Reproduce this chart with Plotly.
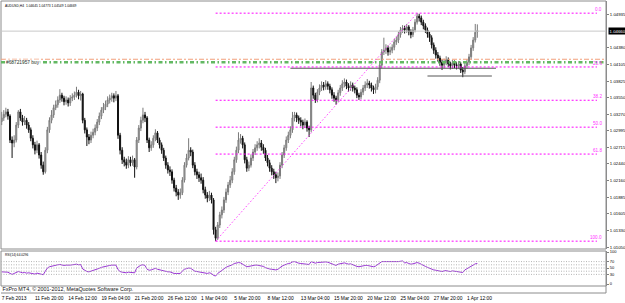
import plotly.graph_objects as go

# ---------------- data (AUDUSD, H4) ----------------
opens = [
    1.0315, 1.0321, 1.0327, 1.0331, 1.0324, 1.0284, 1.0279, 1.0284, 1.0309, 1.0331,
    1.0321, 1.0314, 1.0317, 1.0309, 1.0301, 1.0287, 1.0276, 1.0267, 1.0276, 1.0259,
    1.0242, 1.0231, 1.0267, 1.0301, 1.0317, 1.0326, 1.0338, 1.0343, 1.0351, 1.0359,
    1.0354, 1.0348, 1.0351, 1.0346, 1.0354, 1.0356, 1.0359, 1.0364, 1.0358, 1.0361,
    1.0317, 1.0301, 1.0289, 1.0284, 1.0292, 1.0297, 1.0304, 1.0314, 1.0324, 1.0334,
    1.0339, 1.0344, 1.0351, 1.0354, 1.0358, 1.0354, 1.0358, 1.0292, 1.0267, 1.0251,
    1.0247, 1.0242, 1.0251, 1.0246, 1.0251, 1.0239, 1.0284, 1.0304, 1.0317, 1.0326,
    1.0321, 1.0284, 1.0271, 1.0276, 1.0287, 1.0296, 1.0284, 1.0276, 1.0267, 1.0254,
    1.0242, 1.0234, 1.0231, 1.0217, 1.0204, 1.0197, 1.0192, 1.0196, 1.0217, 1.0242,
    1.0254, 1.0267, 1.0264, 1.0242, 1.0231, 1.0226, 1.0221, 1.0217, 1.0201, 1.0192,
    1.0187, 1.0192, 1.0184, 1.0134, 1.0120, 1.0142, 1.0159, 1.0167, 1.0184, 1.0197,
    1.0209, 1.0217, 1.0231, 1.0251, 1.0267, 1.0284, 1.0287, 1.0276, 1.0251, 1.0237,
    1.0242, 1.0254, 1.0264, 1.0271, 1.0276, 1.0279, 1.0272, 1.0267, 1.0254, 1.0246,
    1.0237, 1.0231, 1.0226, 1.0221, 1.0224, 1.0242, 1.0259, 1.0271, 1.0284, 1.0292,
    1.0301, 1.0321, 1.0326, 1.0321, 1.0317, 1.0314, 1.0309, 1.0314, 1.0304, 1.0301,
    1.0371, 1.0359, 1.0351, 1.0364, 1.0371, 1.0376, 1.0373, 1.0378, 1.0374, 1.0368,
    1.0359, 1.0354, 1.0351, 1.0363, 1.0371, 1.0378, 1.0381, 1.0374, 1.0371, 1.0376,
    1.0371, 1.0368, 1.0359, 1.0356, 1.0364, 1.0371, 1.0376, 1.0379, 1.0376, 1.0371,
    1.0368, 1.0373, 1.0384, 1.0409, 1.0431, 1.0434, 1.0438, 1.0431, 1.0434, 1.0439,
    1.0448, 1.0451, 1.0460, 1.0468, 1.0471, 1.0468, 1.0473, 1.0465, 1.0460, 1.0468,
    1.0481, 1.0491, 1.0488, 1.0481, 1.0475, 1.0468, 1.0461, 1.0455, 1.0443, 1.0434,
    1.0426, 1.0421, 1.0414, 1.0409, 1.0414, 1.0418, 1.0411, 1.0408, 1.0413, 1.0409,
    1.0408, 1.0411, 1.0401, 1.0398, 1.0408, 1.0414, 1.0423, 1.0438, 1.0451, 1.04645,
]
highs = [
    1.0331, 1.0334, 1.0338, 1.0336, 1.0327, 1.0290, 1.0292, 1.0314, 1.0334, 1.0336,
    1.0326, 1.0324, 1.0321, 1.0314, 1.0305, 1.0292, 1.0281, 1.0283, 1.0279, 1.0264,
    1.0248, 1.0272, 1.0306, 1.0322, 1.0334, 1.0343, 1.0350, 1.0357, 1.0369, 1.0363,
    1.0358, 1.0357, 1.0355, 1.0359, 1.0362, 1.0365, 1.0373, 1.0368, 1.0366, 1.0363,
    1.0321, 1.0305, 1.0294, 1.0298, 1.0303, 1.0310, 1.0319, 1.0330, 1.0339, 1.0346,
    1.0350, 1.0357, 1.0360, 1.0363, 1.0362, 1.0366, 1.0361, 1.0296, 1.0272, 1.0256,
    1.0253, 1.0257, 1.0256, 1.0258, 1.0254, 1.0289, 1.0309, 1.0323, 1.0338, 1.0331,
    1.0324, 1.0288, 1.0282, 1.0292, 1.0302, 1.0299, 1.0288, 1.0280, 1.0271, 1.0258,
    1.0247, 1.0240, 1.0235, 1.0221, 1.0209, 1.0202, 1.0203, 1.0222, 1.0247, 1.0261,
    1.0287, 1.0272, 1.0268, 1.0247, 1.0236, 1.0231, 1.0228, 1.0222, 1.0206, 1.0197,
    1.0199, 1.0196, 1.0187, 1.0139, 1.0147, 1.0164, 1.0173, 1.0189, 1.0203, 1.0214,
    1.0224, 1.0237, 1.0256, 1.0273, 1.0297, 1.0294, 1.0291, 1.0280, 1.0256, 1.0248,
    1.0260, 1.0269, 1.0277, 1.0282, 1.0287, 1.0284, 1.0277, 1.0271, 1.0259, 1.0251,
    1.0242, 1.0236, 1.0231, 1.0230, 1.0247, 1.0264, 1.0276, 1.0290, 1.0298, 1.0307,
    1.0331, 1.0331, 1.0330, 1.0325, 1.0322, 1.0318, 1.0320, 1.0317, 1.0308, 1.0381,
    1.0375, 1.0363, 1.0369, 1.0377, 1.0382, 1.0381, 1.0384, 1.0382, 1.0378, 1.0372,
    1.0364, 1.0358, 1.0368, 1.0376, 1.0384, 1.0387, 1.0385, 1.0379, 1.0382, 1.0380,
    1.0375, 1.0372, 1.0363, 1.0369, 1.0376, 1.0382, 1.0386, 1.0383, 1.0380, 1.0375,
    1.0378, 1.0389, 1.0414, 1.0436, 1.0455, 1.0444, 1.0442, 1.0440, 1.0444, 1.0453,
    1.0457, 1.0465, 1.0473, 1.0476, 1.0475, 1.0478, 1.0476, 1.0469, 1.0473, 1.0486,
    1.0496, 1.0495, 1.0492, 1.0485, 1.0479, 1.0472, 1.0465, 1.0459, 1.0447, 1.0439,
    1.0431, 1.0425, 1.0419, 1.0420, 1.0424, 1.0422, 1.0415, 1.0418, 1.0417, 1.0414,
    1.0416, 1.0414, 1.0406, 1.0413, 1.0419, 1.0428, 1.0443, 1.0456, 1.0478, 1.04773,
]
lows = [
    1.0309, 1.0316, 1.0322, 1.0318, 1.0279, 1.0254, 1.0272, 1.0280, 1.0304, 1.0316,
    1.0308, 1.0309, 1.0303, 1.0296, 1.0282, 1.0270, 1.0260, 1.0262, 1.0253, 1.0236,
    1.0226, 1.0228, 1.0262, 1.0296, 1.0312, 1.0321, 1.0334, 1.0338, 1.0346, 1.0348,
    1.0342, 1.0343, 1.0340, 1.0341, 1.0349, 1.0351, 1.0355, 1.0352, 1.0350, 1.0312,
    1.0295, 1.0274, 1.0277, 1.0279, 1.0287, 1.0292, 1.0299, 1.0309, 1.0319, 1.0329,
    1.0334, 1.0339, 1.0345, 1.0348, 1.0347, 1.0349, 1.0286, 1.0260, 1.0244, 1.0240,
    1.0236, 1.0237, 1.0240, 1.0241, 1.0221, 1.0235, 1.0279, 1.0299, 1.0312, 1.0314,
    1.0279, 1.0264, 1.0266, 1.0271, 1.0282, 1.0279, 1.0270, 1.0261, 1.0249, 1.0236,
    1.0228, 1.0224, 1.0211, 1.0198, 1.0190, 1.0184, 1.0186, 1.0192, 1.0213, 1.0238,
    1.0250, 1.0257, 1.0237, 1.0225, 1.0219, 1.0214, 1.0211, 1.0195, 1.0186, 1.0180,
    1.0182, 1.0178, 1.0126, 1.0115, 1.0117, 1.0137, 1.0153, 1.0162, 1.0179, 1.0192,
    1.0204, 1.0212, 1.0226, 1.0246, 1.0262, 1.0278, 1.0270, 1.0245, 1.0231, 1.0232,
    1.0238, 1.0249, 1.0259, 1.0266, 1.0270, 1.0266, 1.0261, 1.0249, 1.0240, 1.0231,
    1.0225, 1.0219, 1.0212, 1.0215, 1.0219, 1.0237, 1.0254, 1.0266, 1.0279, 1.0287,
    1.0296, 1.0315, 1.0314, 1.0311, 1.0307, 1.0302, 1.0304, 1.0298, 1.0289, 1.0297,
    1.0353, 1.0346, 1.0347, 1.0359, 1.0366, 1.0367, 1.0368, 1.0368, 1.0362, 1.0353,
    1.0348, 1.0343, 1.0347, 1.0358, 1.0366, 1.0372, 1.0369, 1.0365, 1.0366, 1.0365,
    1.0362, 1.0354, 1.0351, 1.0352, 1.0359, 1.0366, 1.0371, 1.0370, 1.0365, 1.0361,
    1.0362, 1.0368, 1.0379, 1.0404, 1.0426, 1.0428, 1.0425, 1.0426, 1.0429, 1.0434,
    1.0443, 1.0446, 1.0455, 1.0463, 1.0462, 1.0463, 1.0459, 1.0454, 1.0456, 1.0464,
    1.0477, 1.0482, 1.0476, 1.0469, 1.0463, 1.0455, 1.0448, 1.0437, 1.0428, 1.0420,
    1.0415, 1.0408, 1.0401, 1.0404, 1.0409, 1.0406, 1.0402, 1.0403, 1.0404, 1.0402,
    1.0403, 1.0396, 1.0389, 1.0394, 1.0403, 1.0409, 1.0418, 1.0433, 1.0447, 1.04549,
]
closes = [
    1.0321, 1.0327, 1.0331, 1.0324, 1.0284, 1.0279, 1.0284, 1.0309, 1.0331, 1.0321,
    1.0314, 1.0317, 1.0309, 1.0301, 1.0287, 1.0276, 1.0267, 1.0276, 1.0259, 1.0242,
    1.0231, 1.0267, 1.0301, 1.0317, 1.0326, 1.0338, 1.0343, 1.0351, 1.0359, 1.0354,
    1.0348, 1.0351, 1.0346, 1.0354, 1.0356, 1.0359, 1.0364, 1.0358, 1.0361, 1.0317,
    1.0301, 1.0289, 1.0284, 1.0292, 1.0297, 1.0304, 1.0314, 1.0324, 1.0334, 1.0339,
    1.0344, 1.0351, 1.0354, 1.0358, 1.0354, 1.0358, 1.0292, 1.0267, 1.0251, 1.0247,
    1.0242, 1.0251, 1.0246, 1.0251, 1.0239, 1.0284, 1.0304, 1.0317, 1.0326, 1.0321,
    1.0284, 1.0271, 1.0276, 1.0287, 1.0296, 1.0284, 1.0276, 1.0267, 1.0254, 1.0242,
    1.0234, 1.0231, 1.0217, 1.0204, 1.0197, 1.0192, 1.0196, 1.0217, 1.0242, 1.0254,
    1.0267, 1.0264, 1.0242, 1.0231, 1.0226, 1.0221, 1.0217, 1.0201, 1.0192, 1.0187,
    1.0192, 1.0184, 1.0134, 1.0120, 1.0142, 1.0159, 1.0167, 1.0184, 1.0197, 1.0209,
    1.0217, 1.0231, 1.0251, 1.0267, 1.0284, 1.0287, 1.0276, 1.0251, 1.0237, 1.0242,
    1.0254, 1.0264, 1.0271, 1.0276, 1.0279, 1.0272, 1.0267, 1.0254, 1.0246, 1.0237,
    1.0231, 1.0226, 1.0221, 1.0224, 1.0242, 1.0259, 1.0271, 1.0284, 1.0292, 1.0301,
    1.0321, 1.0326, 1.0321, 1.0317, 1.0314, 1.0309, 1.0314, 1.0304, 1.0301, 1.0371,
    1.0359, 1.0351, 1.0364, 1.0371, 1.0376, 1.0373, 1.0378, 1.0374, 1.0368, 1.0359,
    1.0354, 1.0351, 1.0363, 1.0371, 1.0378, 1.0381, 1.0374, 1.0371, 1.0376, 1.0371,
    1.0368, 1.0359, 1.0356, 1.0364, 1.0371, 1.0376, 1.0379, 1.0376, 1.0371, 1.0368,
    1.0373, 1.0384, 1.0409, 1.0431, 1.0434, 1.0438, 1.0431, 1.0434, 1.0439, 1.0448,
    1.0451, 1.0460, 1.0468, 1.0471, 1.0468, 1.0473, 1.0465, 1.0460, 1.0468, 1.0481,
    1.0491, 1.0488, 1.0481, 1.0475, 1.0468, 1.0461, 1.0455, 1.0443, 1.0434, 1.0426,
    1.0421, 1.0414, 1.0409, 1.0414, 1.0418, 1.0411, 1.0408, 1.0413, 1.0409, 1.0408,
    1.0411, 1.0401, 1.0398, 1.0408, 1.0414, 1.0423, 1.0438, 1.0451, 1.0464, 1.04669,
]
rsi_values = [
    38, 37, 36, 37, 33, 30, 33, 37, 39, 37,
    35, 36, 34, 35, 34, 33, 31, 34, 32, 30,
    29, 40, 50, 54, 56, 58, 59, 60, 61, 59,
    58, 59, 58, 59, 60, 61, 62, 60, 61, 47,
    43, 39, 38, 40, 41, 43, 46, 49, 52, 54,
    55, 57, 58, 59, 58, 59, 45, 39, 37, 36,
    35, 37, 36, 37, 35, 50, 56, 59, 60, 58,
    46, 43, 44, 47, 49, 46, 44, 42, 40, 39,
    38, 38, 35, 33, 33, 32, 33, 41, 46, 48,
    50, 49, 43, 40, 39, 38, 37, 35, 34, 33,
    35, 33, 27, 25, 33, 38, 42, 48, 52, 55,
    57, 60, 64, 66, 67, 66, 62, 56, 54, 55,
    57, 58, 59, 59, 58, 56, 55, 51, 48, 47,
    46, 45, 44, 46, 52, 56, 59, 62, 64, 65,
    69, 70, 67, 65, 64, 63, 64, 62, 61, 70,
    67, 65, 67, 68, 69, 68, 69, 68, 66, 64,
    62, 58, 62, 64, 65, 66, 64, 62, 63, 60,
    58, 55, 54, 56, 57, 58, 58, 57, 55, 54,
    56, 60, 66, 70, 70, 70, 68, 68, 69, 68,
    69, 70, 71, 72, 66, 67, 64, 62, 63, 66,
    67, 65, 61, 58, 55, 52, 49, 46, 44, 43,
    42, 41, 39, 41, 42, 40, 39, 41, 40, 39,
    40, 38, 36, 44, 48, 52, 57, 60, 63, 64.0296,
]

time_tick_bars = [0, 16, 32, 48, 64, 80, 96, 112, 128, 144, 160, 176, 192, 208, 224]
time_tick_labels = ["7 Feb 2013", "11 Feb 20:00", "14 Feb 12:00", "19 Feb 04:00",
                    "21 Feb 20:00", "26 Feb 12:00", "1 Mar 04:00", "5 Mar 20:00",
                    "8 Mar 12:00", "13 Mar 04:00", "15 Mar 20:00", "20 Mar 12:00",
                    "25 Mar 04:00", "27 Mar 20:00", "1 Apr 12:00"]
price_ticks = [1.04935, 1.04380, 1.04105, 1.03825, 1.03550, 1.03270, 1.02995,
               1.02715, 1.02440, 1.02160, 1.01885, 1.01605, 1.01330, 1.01050]
bid_price = 1.04660
rsi_ticks = [0, 30, 50, 70, 100]
rsi_levels = [30, 40, 50, 60, 70]

fib_ratios = [0.0, 23.6, 38.2, 50.0, 61.8, 100.0]
fib_low_bar, fib_low = 103, 1.0115
fib_high_bar, fib_high = 200, 1.0496

order_label = "#68721957 buy"
order_price = 1.0414
order_sl_price = 1.0419
support_lines = [(1.0404, 139, 238), (1.0391, 205, 236)]

title_text = "AUDUSD,H4  1.04645 1.04773 1.04549 1.04669"
rsi_text = "RSI(14) 64.0296"
copyright_text = "FxPro MT4, \u00a9 2001-2012, MetaQuotes Software Corp."

# ---------------- layout geometry (pixels) ----------------
W, H = 625, 303
ML, MR, MT, MB = 1, 19, 1, 9
PX0, PX1 = ML, W - MR
PY0, PY1 = MT, H - MB


def px(x):
    return (x - PX0) / (PX1 - PX0)


def py(y):
    return (PY1 - y) / (PY1 - PY0)


BAR0, BAR_W = 1.7, 2.077
x_range = [(PX0 - BAR0) / BAR_W, (PX1 - BAR0) / BAR_W]
MAIN_BOT, RSI_TOP, RSI_BOT, STRIP_BOT = 249, 251, 286, 293
main_range = [1.010192, 1.051633]
rsi_range = [-6.25, 103.125]
FIB_END_BAR = 286.6
FIB_LABEL_BAR = 289.5
COPYRIGHT_BAR = (2.5 - BAR0) / BAR_W

FONT = "Liberation Sans, Arial, sans-serif"
bars = list(range(len(closes)))

fig = go.Figure()
fig.add_trace(go.Candlestick(
    x=bars, open=opens, high=highs, low=lows, close=closes,
    xaxis="x", yaxis="y",
    increasing=dict(line=dict(color="#7a7a7a", width=1), fillcolor="#b8b8b8"),
    decreasing=dict(line=dict(color="#111111", width=1), fillcolor="#111111"),
    whiskerwidth=0, showlegend=False, hoverinfo="skip",
))
fig.add_trace(go.Scatter(
    x=bars, y=rsi_values, xaxis="x", yaxis="y2", mode="lines",
    line=dict(color="#9a35d6", width=1), showlegend=False, hoverinfo="skip",
))
# copyright strip text (own hidden axis between the RSI window and the time scale)
fig.add_trace(go.Scatter(
    x=[COPYRIGHT_BAR], y=[0.5], xaxis="x", yaxis="y3", mode="text",
    text=[copyright_text], textposition="middle right", cliponaxis=False,
    textfont=dict(family=FONT, size=5.4, color="#111"),
    showlegend=False, hoverinfo="skip",
))

shapes = []
# panel frames
shapes.append(dict(type="rect", xref="paper", yref="paper", x0=0, x1=1,
                   y0=py(MAIN_BOT), y1=1, line=dict(color="#8c8c8c", width=1)))
shapes.append(dict(type="rect", xref="paper", yref="paper", x0=0, x1=1,
                   y0=py(RSI_BOT), y1=py(RSI_TOP), line=dict(color="#8c8c8c", width=1)))
shapes.append(dict(type="line", xref="paper", yref="paper", x0=0, x1=1,
                   y0=py(STRIP_BOT), y1=py(STRIP_BOT), line=dict(color="#8c8c8c", width=1)))
shapes.append(dict(type="line", xref="paper", yref="paper", x0=1, x1=1,
                   y0=py(STRIP_BOT), y1=py(RSI_BOT), line=dict(color="#8c8c8c", width=1)))
# bid line
shapes.append(dict(type="line", xref="paper", yref="y", x0=0, x1=1,
                   y0=bid_price, y1=bid_price, line=dict(color="#c8c8c8", width=1)))
# order lines
shapes.append(dict(type="line", xref="paper", yref="y", x0=0, x1=1,
                   y0=order_sl_price, y1=order_sl_price,
                   line=dict(color="#f2a07c", width=1.2, dash="5px,2px,2px,2px")))
shapes.append(dict(type="line", xref="paper", yref="y", x0=0, x1=1,
                   y0=order_price, y1=order_price,
                   line=dict(color="#62b862", width=2.6, dash="4px,2.5px,1.5px,2.5px")))
# support lines
for price, b0, b1 in support_lines:
    shapes.append(dict(type="line", xref="x", yref="y", x0=b0, x1=b1,
                       y0=price, y1=price, line=dict(color="#555555", width=1)))
# fibonacci
fib_prices = [fib_high - r / 100.0 * (fib_high - fib_low) for r in fib_ratios]
for p in fib_prices:
    shapes.append(dict(type="line", xref="x", yref="y", x0=fib_low_bar, x1=FIB_END_BAR,
                       y0=p, y1=p, line=dict(color="#ff00ff", width=1, dash="2px,2px")))
shapes.append(dict(type="line", xref="x", yref="y", x0=fib_low_bar, x1=fib_high_bar,
                   y0=fib_low, y1=fib_high,
                   line=dict(color="#ff44ff", width=1, dash="1.5px,2px")))
# RSI levels
for lv in rsi_levels:
    shapes.append(dict(type="line", xref="paper", yref="y2", x0=0, x1=1,
                       y0=lv, y1=lv, line=dict(color="#b4b4b4", width=1, dash="1px,1.5px")))

annotations = []
annotations.append(dict(xref="paper", yref="paper", x=px(3), y=py(6), text=title_text,
                        showarrow=False, xanchor="left", yanchor="middle",
                        font=dict(family=FONT, size=3.3, color="#000")))
annotations.append(dict(xref="paper", yref="paper", x=px(3), y=py(255.5), text=rsi_text,
                        showarrow=False, xanchor="left", yanchor="middle",
                        font=dict(family=FONT, size=3.2, color="#000")))
annotations.append(dict(xref="paper", yref="y", x=px(5), y=order_price, text=order_label,
                        showarrow=False, xanchor="left", yanchor="middle", borderpad=0,
                        bgcolor="rgba(255,255,255,0.85)",
                        font=dict(family=FONT, size=4.8, color="#333")))
for r, p in zip(fib_ratios, fib_prices):
    annotations.append(dict(xref="x", yref="y", x=FIB_LABEL_BAR, y=p, text=f"{r:.1f}",
                            showarrow=False, xanchor="right", yanchor="bottom",
                            borderpad=0, font=dict(family=FONT, size=4.6, color="#ff33ff")))
annotations.append(dict(xref="paper", yref="y", x=px(607.5), y=bid_price,
                        text=f"{bid_price:.5f}", showarrow=False, xanchor="left",
                        yanchor="middle", bgcolor="#000", borderpad=0.6,
                        font=dict(family=FONT, size=4.3, color="#fff")))

fig.update_layout(
    width=W, height=H, autosize=False,
    margin=dict(l=ML, r=MR, t=MT, b=MB, pad=0, autoexpand=False),
    paper_bgcolor="#ffffff", plot_bgcolor="#ffffff",
    showlegend=False,
    xaxis=dict(anchor="free", position=0, range=x_range, tickvals=time_tick_bars,
               ticktext=time_tick_labels, ticks="",
               ticklabelposition="outside right",
               tickangle=0, automargin=False,
               tickfont=dict(family=FONT, size=4.9, color="#000"),
               showgrid=False, zeroline=False, showline=False,
               rangeslider=dict(visible=False)),
    yaxis=dict(domain=[py(MAIN_BOT), 1], anchor="x", side="right", range=main_range,
               tickvals=price_ticks, ticktext=[f"{v:.5f}" for v in price_ticks],
               ticks="outside", ticklen=2, tickcolor="#808080", automargin=False,
               tickfont=dict(family=FONT, size=4.3, color="#000"),
               showgrid=False, zeroline=False, showline=True,
               linecolor="#8c8c8c", linewidth=1),
    yaxis2=dict(domain=[py(RSI_BOT), py(RSI_TOP)], anchor="x", side="right",
                range=rsi_range,
                tickvals=rsi_ticks, ticktext=[str(v) for v in rsi_ticks],
                ticks="outside", ticklen=2, tickcolor="#808080", automargin=False,
                tickfont=dict(family=FONT, size=4.0, color="#000"),
                showgrid=False, zeroline=False, showline=True,
                linecolor="#8c8c8c", linewidth=1),
    yaxis3=dict(domain=[py(STRIP_BOT), py(RSI_BOT)], anchor="x", range=[0, 1],
                visible=False, automargin=False, fixedrange=True),
    shapes=shapes,
    annotations=annotations,
)

fig.write_html("out.html")
